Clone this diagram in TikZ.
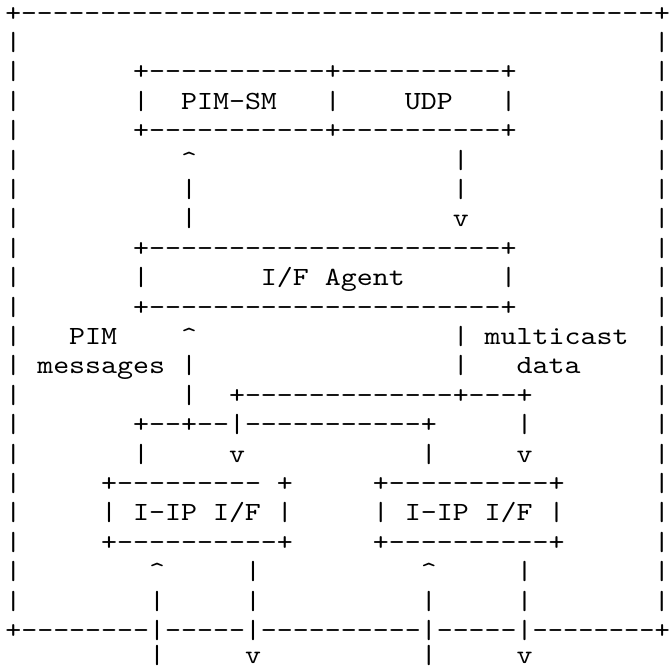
\documentclass[tikz,border=0pt]{standalone}
\usepackage{fontspec}
\newfontfamily\asciifont{lmmono10-regular.otf}[FakeStretch=1.1618,Ligatures=TeXOff]
\newfontfamily\asciifontB{lmmono10-regular.otf}[FakeStretch=1.1504,Ligatures=TeXOff]
\newfontfamily\asciifontC{lmmono10-regular.otf}[FakeStretch=1.1087,Ligatures=TeXOff]
\tikzset{asc/.style={inner sep=0pt,outer sep=0pt,anchor=base west,text=black,
  font=\asciifont\fontsize{26.2pt}{29.4pt}\selectfont},
  ascB/.style={asc,font=\asciifontB\fontsize{26.2pt}{29.4pt}\selectfont},
  ascC/.style={asc,font=\asciifontC\fontsize{26.2pt}{29.4pt}\selectfont}}
% #1 name, #2 column, #3 row, #4 text
\newcommand\ascput[4]{\node[asc] (#1) at ({5.31pt+15.98pt*#2},{-21.1pt-29.4pt*#3}) {#4};}
\newcommand\up{\textasciicircum}
\begin{document}
\begin{tikzpicture}
\fill[white] (0,0) rectangle (670pt,-671pt);
\useasboundingbox (0,0) rectangle (670pt,-671pt);
% outer frame top
\node[ascB] (top) at (5.31pt,-21.1pt) {+----------------------------------------+};
% left and right frame sides
\foreach \r in {1,...,20}{
  \ascput{L\r}{0}{\r}{|}
  \ascput{R\r}{40.588}{\r}{|}
}
% PIM-SM / UDP box
\ascput{pimtop}{8}{2}{+-----------+----------+}
\ascput{pimL}{8}{3}{|}
\ascput{pimsm}{11}{3}{PIM-SM}
\ascput{pimM}{20}{3}{|}
\ascput{udp}{25}{3}{UDP}
\ascput{udpR}{31}{3}{|}
\ascput{pimbot}{8}{4}{+-----------+----------+}
% arrows between PIM/UDP and I/F Agent
\ascput{upA}{11}{5}{\up}
\ascput{upA6}{11}{6}{|}
\ascput{upA7}{11}{7}{|}
\ascput{dnA5}{28}{5}{|}
\ascput{dnA6}{28}{6}{|}
\ascput{dnA}{28}{7}{v}
% I/F Agent box
\ascput{agtop}{8}{8}{+----------------------+}
\ascput{agL}{8}{9}{|}
\ascput{agent}{16}{9}{I/F Agent}
\ascput{agR}{31}{9}{|}
\ascput{agbot}{8}{10}{+----------------------+}
% labels and vertical links
\ascput{pim}{4}{11}{PIM}
\ascput{upB}{11}{11}{\up}
\ascput{dnB11}{28}{11}{|}
\ascput{mcast}{30}{11}{multicast}
\ascput{msgs}{2}{12}{messages}
\ascput{upB12}{11}{12}{|}
\ascput{dnB12}{28}{12}{|}
\ascput{data}{32}{12}{data}
\ascput{upB13}{11}{13}{|}
\ascput{distA}{14}{13}{+-------------+---+}
\ascput{distB}{8}{14}{+--+--|-----------+}
\ascput{distB2}{32}{14}{|}
\ascput{lk15a}{8}{15}{|}
\ascput{lk15b}{14}{15}{v}
\ascput{lk15c}{26}{15}{|}
\ascput{lk15d}{32}{15}{v}
% I-IP I/F boxes
\ascput{ifAtop}{6}{16}{+---------}
\ascput{ifAtop2}{17}{16}{+}
\ascput{ifBtop}{23}{16}{+----------+}
\ascput{ifAL}{6}{17}{|}
\ascput{ifA}{8}{17}{I-IP I/F}
\ascput{ifAR}{17}{17}{|}
\ascput{ifBL}{23}{17}{|}
\ascput{ifB}{25}{17}{I-IP I/F}
\ascput{ifBR}{34}{17}{|}
\ascput{ifAbot}{6}{18}{+----------+}
\ascput{ifBbot}{23}{18}{+----------+}
% links below the boxes
\ascput{a19}{9}{19}{\up}
\ascput{b19}{15}{19}{|}
\ascput{c19}{26}{19}{\up}
\ascput{d19}{32}{19}{|}
\ascput{a20}{9}{20}{|}
\ascput{b20}{15}{20}{|}
\ascput{c20}{26}{20}{|}
\ascput{d20}{32}{20}{|}
% outer frame bottom
\ascput{bottom}{0}{21}{+--------|-----|----------|-----|}
\node[ascC] (bottomR) at (532.65pt,{-21.1pt-29.4pt*21}) {--------+};
\ascput{a22}{9}{21.85}{|}
\ascput{b22}{15}{21.85}{v}
\ascput{c22}{26}{21.85}{|}
\ascput{d22}{32}{21.85}{v}
\end{tikzpicture}
\end{document}
